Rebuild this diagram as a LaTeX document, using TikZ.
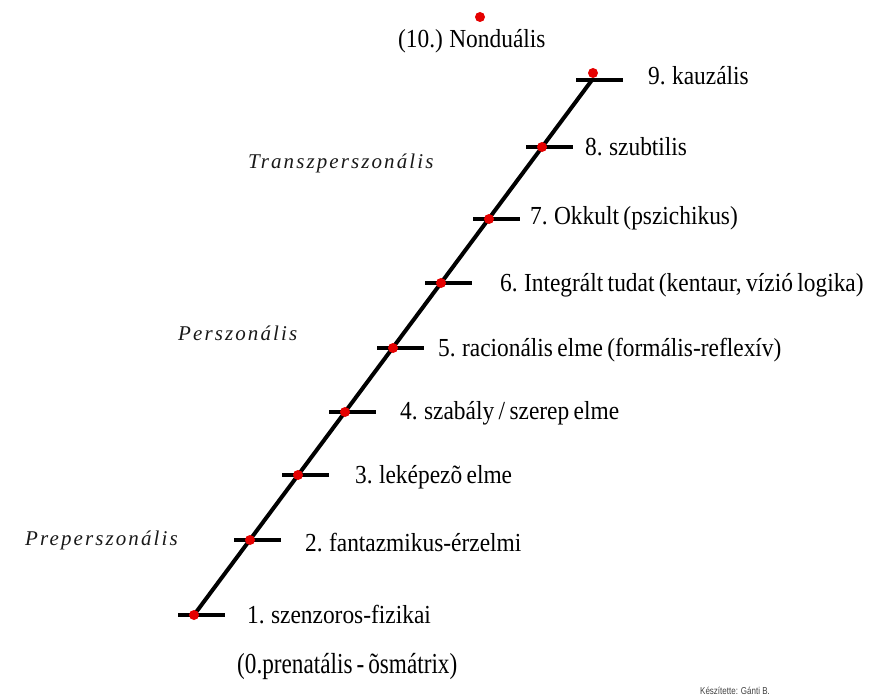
\documentclass[tikz,border=0pt]{standalone}
\usepackage{fontspec}
\setmainfont{Liberation Serif}
\newfontfamily\lvlfont[FakeStretch=0.9,WordSpace=0.75]{Liberation Serif}
\newfontfamily\bigfont[FakeStretch=0.8,WordSpace=0.7]{Liberation Serif}
\newfontfamily\catfont[LetterSpace=10]{Liberation Serif}
\newfontfamily\footfont[FakeStretch=0.8]{Liberation Sans}
\begin{document}
\begin{tikzpicture}[x=1pt,y=-1pt,
  lvl/.style={anchor=west,inner sep=0pt,font=\lvlfont\fontsize{26}{28}\selectfont,text height=18pt,text depth=6pt},
  big/.style={anchor=west,inner sep=0pt,font=\bigfont\fontsize{29}{31}\selectfont,text height=20pt,text depth=7pt},
  cat/.style={anchor=west,inner sep=0pt,font=\catfont\itshape\fontsize{21}{24}\selectfont,text=black!90},
  rdot/.style={circle,fill=red!90!black,inner sep=0pt,minimum size=10pt},
  tick/.style={line width=4.5pt},
  ladder/.style={line width=4pt}]
\useasboundingbox (0,0) rectangle (879,698);
% ladder points
\coordinate (p1) at (194,615);
\coordinate (p2) at (250,540);
\coordinate (p3) at (298,475);
\coordinate (p4) at (345,412);
\coordinate (p5) at (393,348);
\coordinate (p6) at (441,283);
\coordinate (p7) at (489,219);
\coordinate (p8) at (542,147);
\coordinate (p9) at (592,80);
\draw[ladder] (p1) -- (p9);
\foreach \i in {1,...,9}{
  \draw[tick] ([xshift=-16pt]p\i) -- ([xshift=31pt]p\i);
}
\foreach \i in {1,...,8}{
  \node[rdot] (d\i) at (p\i) {};
}
\node[rdot] (d9) at (593,73) {};
\node[rdot] (d10) at (480,17) {};
% labels
\node[lvl] (l1) at (247,617) {1. szenzoros-fizikai};
\node[lvl] (l2) at (305,545) {2. fantazmikus-érzelmi};
\node[lvl] (l3) at (355,477) {3. leképezõ elme};
\node[lvl] (l4) at (400,413) {4. szabály / szerep elme};
\node[lvl] (l5) at (438,350) {5. racionális elme (formális-reflexív)};
\node[lvl] (l6) at (500,285) {6. Integrált tudat (kentaur, vízió logika)};
\node[lvl] (l7) at (530,219) {7. Okkult (pszichikus)};
\node[lvl] (l8) at (585,150) {8. szubtilis};
\node[lvl] (l9) at (648,79) {9. kauzális};
\node[lvl] (l10) at (398,42) {(10.) Nonduális};
\node[big] (l0) at (237,667) {(0.prenatális - õsmátrix)};
% categories
\node[cat] (c3) at (248,163) {Transzperszonális};
\node[cat] (c2) at (178,333) {Perszonális};
\node[cat] (c1) at (25,540) {Preperszonális};
% footer
\node[anchor=center,inner sep=0pt,font=\footfont\fontsize{10}{11}\selectfont,text=black!75] (f) at (735,691) {Készítette: Gánti B.};
\end{tikzpicture}
\end{document}
